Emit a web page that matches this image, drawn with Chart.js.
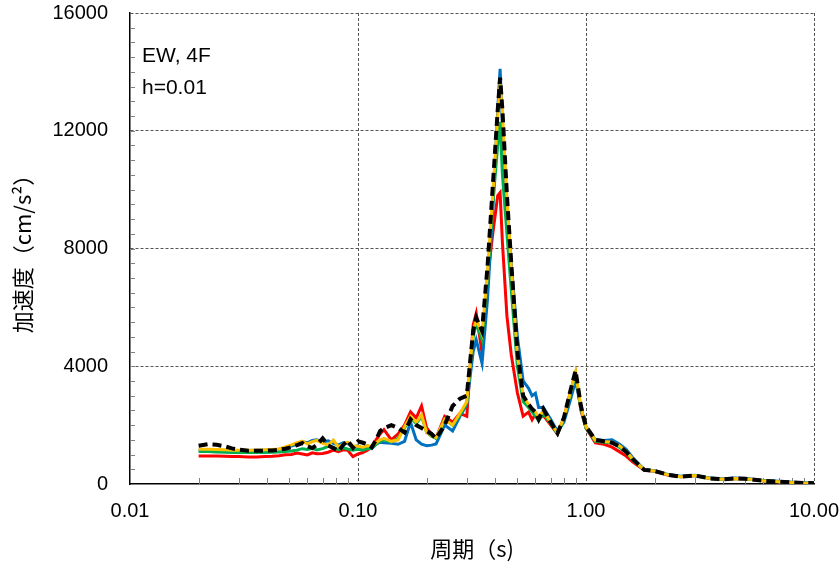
<!DOCTYPE html>
<html>
<head>
<meta charset="utf-8">
<script src="https://cdn.jsdelivr.net/npm/chart.js@4/dist/chart.umd.min.js"></script>
<style>
  body { margin: 0; background: #fff; }
  canvas { display: block; }
</style>
</head>
<body>
<canvas id="spectrum" width="840" height="568"></canvas>
<script>
// periods (s)
const periods = [
  0.02, 0.022, 0.024, 0.026, 0.028, 0.03, 0.033, 0.036, 0.039, 0.042,
  0.045, 0.048, 0.051, 0.054, 0.057, 0.06, 0.063, 0.066, 0.07, 0.074,
  0.078, 0.082, 0.086, 0.09, 0.095, 0.1, 0.105, 0.11, 0.115, 0.12,
  0.125, 0.13, 0.14, 0.15, 0.16, 0.17, 0.18, 0.19, 0.2, 0.21,
  0.22, 0.24, 0.26, 0.28, 0.3, 0.32, 0.33, 0.35, 0.37, 0.39,
  0.41, 0.42, 0.43, 0.45, 0.47, 0.5, 0.53, 0.56, 0.58, 0.6,
  0.62, 0.65, 0.7, 0.75, 0.8, 0.85, 0.9, 0.95, 1.0, 1.1,
  1.2, 1.3, 1.4, 1.5, 1.6, 1.8, 2.0, 2.3, 2.6, 3.0,
  3.5, 4.0, 4.5, 5.0, 6.0, 7.0, 8.0, 9.0, 10.0
];

// acceleration response (cm/s2)
const redValues = [
  950, 950, 950, 940, 930, 930, 920, 920, 930, 940,
  960, 990, 1000, 1050, 1020, 990, 1060, 1030, 1040, 1080,
  1150, 1100, 1160, 1150, 930, 1020, 1070, 1150, 1250, 1500,
  1700, 1850, 1500, 1700, 2000, 2450, 2250, 2650, 1900, 1700,
  1560, 2300, 2100, 2400, 2300, 5400, 5800, 4450, 7000, 8500,
  9800, 9900, 8200, 5700, 4400, 3100, 2300, 2440, 2180, 2380,
  2200, 2330, 2000, 1700, 2250, 3050, 3750, 2500, 1900, 1400,
  1350, 1250, 1100, 950, 750, 470, 430, 300, 250, 290,
  190, 160, 190, 180, 110, 80, 55, 35, 25
];
const blueValues = [
  1150, 1150, 1150, 1140, 1140, 1140, 1140, 1150, 1150, 1160,
  1180, 1230, 1290, 1350, 1430, 1400, 1480, 1500, 1420, 1470,
  1380, 1320, 1400, 1380, 1240, 1300, 1200, 1300, 1200, 1350,
  1420, 1400, 1380, 1350, 1450, 2100, 1500, 1350, 1300, 1320,
  1360, 2000, 1800, 2300, 2700, 4500, 4900, 4100, 6300, 9300,
  12700, 14100, 12200, 9600, 7500, 5000, 3500, 3250, 3000, 3080,
  2600, 2600, 2200, 1780, 2100, 2800, 3500, 2600, 1950, 1500,
  1480, 1500, 1360, 1180, 900, 490, 450, 320, 260, 300,
  200, 170, 200, 190, 120, 90, 60, 40, 30
];
const greenValues = [
  1100, 1100, 1090, 1080, 1070, 1070, 1070, 1070, 1070, 1080,
  1090, 1100, 1120, 1150, 1200, 1170, 1210, 1160, 1200, 1280,
  1240, 1170, 1230, 1190, 1150, 1180, 1150, 1200, 1220, 1350,
  1450, 1500, 1420, 1550, 1900, 2250, 2050, 2300, 1750, 1620,
  1550, 2200, 2000, 2350, 2750, 5000, 5450, 4900, 7000, 9500,
  11500, 12300, 10500, 8500, 6600, 4000, 2800, 2600, 2450, 2300,
  2150, 2400, 2050, 1700, 2200, 3000, 3750, 2550, 1900, 1450,
  1420, 1400, 1250, 1080, 820, 480, 440, 310, 250, 290,
  190, 160, 190, 180, 110, 80, 55, 35, 25
];
const yellowValues = [
  1180, 1180, 1170, 1160, 1150, 1150, 1150, 1150, 1160, 1170,
  1190, 1260, 1330, 1400, 1460, 1360, 1440, 1480, 1380, 1320,
  1490, 1260, 1350, 1420, 1300, 1280, 1250, 1300, 1280, 1400,
  1500, 1550, 1450, 1500, 1950, 2300, 2100, 2350, 1750, 1650,
  1580, 2200, 2000, 2400, 2800, 5200, 5570, 5100, 7200, 9800,
  12500, 13600, 12600, 9700, 7400, 4400, 3000, 2700, 2550, 2450,
  2250, 2500, 2100, 1730, 2250, 3050, 3800, 2600, 1950, 1480,
  1440, 1420, 1300, 1120, 850, 480, 440, 310, 250, 290,
  190, 160, 190, 180, 110, 80, 55, 35, 25
];
const blackValues = [
  1300, 1350, 1330, 1280, 1210, 1170, 1130, 1130, 1130, 1140,
  1160, 1200, 1250, 1320, 1390, 1280, 1220, 1330, 1550, 1310,
  1220, 1120, 1320, 1480, 1230, 1450, 1400, 1350, 1250, 1500,
  1800, 1900, 2000, 1900, 1750, 2200, 2000, 1900, 1800, 1700,
  1550, 2000, 2650, 2900, 3000, 5200, 5650, 5200, 7400, 10100,
  12700, 13800, 12700, 9800, 7500, 4500, 3000, 2700, 2550, 2450,
  2200, 2550, 2100, 1730, 2250, 3100, 3850, 2650, 1950, 1500,
  1450, 1400, 1280, 1100, 850, 480, 440, 310, 250, 290,
  190, 160, 190, 180, 110, 80, 55, 35, 25
];

// axis ticks
const xTickValues = [0.01, 0.1, 1, 10];
const xMinorTicks = [
  0.02, 0.03, 0.04, 0.05, 0.06, 0.07, 0.08, 0.09,
  0.2, 0.3, 0.4, 0.5, 0.6, 0.7, 0.8, 0.9,
  2, 3, 4, 5, 6, 7, 8, 9
];
const yMin = 0, yMax = 16000, yStep = 4000, yMinorStep = 500;
const noteLines = ['EW, 4F', 'h=0.01'];

function toPoints(values) {
  return periods.map((p, i) => ({ x: p, y: values[i] }));
}

function lineSet(label, values, color, width, dash) {
  return {
    label: label,
    data: toPoints(values),
    borderColor: color,
    backgroundColor: color,
    borderWidth: width,
    borderDash: dash || [],
    pointRadius: 0,
    tension: 0,
    fill: false
  };
}

// minor tick marks + note text
const extras = {
  id: 'extras',
  beforeDatasetsDraw(chart) {
    const { ctx, chartArea, scales: { x, y } } = chart;
    ctx.save();
    ctx.strokeStyle = '#808080';
    ctx.lineWidth = 1;
    ctx.beginPath();
    xMinorTicks.forEach(v => {
      const px = Math.round(x.getPixelForValue(v)) + 0.5;
      ctx.moveTo(px, chartArea.bottom);
      ctx.lineTo(px, chartArea.bottom - 6);
    });
    for (let v = yMin + yMinorStep; v < yMax; v += yMinorStep) {
      const py = Math.round(y.getPixelForValue(v)) + 0.5;
      ctx.moveTo(chartArea.left, py);
      ctx.lineTo(chartArea.left + 5, py);
    }
    ctx.stroke();
    ctx.restore();
  },
  afterDraw(chart) {
    const { ctx, chartArea } = chart;
    ctx.save();
    ctx.fillStyle = '#000';
    ctx.font = '21px "Liberation Sans", Arial, sans-serif';
    ctx.textBaseline = 'alphabetic';
    ctx.fillText(noteLines[0], chartArea.left + 12, 62);
    ctx.fillText(noteLines[1], chartArea.left + 12, 94);
    ctx.restore();
  }
};

const gridColor = '#555555';

new Chart(document.getElementById('spectrum'), {
  type: 'line',
  data: {
    datasets: [
      lineSet('black', blackValues, '#000000', 4, [9, 5]),
      lineSet('yellow', yellowValues, '#FFC000', 3),
      lineSet('green', greenValues, '#00B050', 3),
      lineSet('blue', blueValues, '#0070C0', 3),
      lineSet('red', redValues, '#FF0000', 3)
    ]
  },
  options: {
    responsive: false,
    animation: false,
    layout: { padding: { left: 0, top: 13, right: 26, bottom: 0 } },
    plugins: {
      legend: { display: false },
      tooltip: { enabled: false }
    },
    scales: {
      x: {
        type: 'logarithmic',
        min: 0.01,
        max: 10,
        afterBuildTicks: scale => {
          scale.ticks = xTickValues.map(v => ({ value: v, major: true }));
        },
        afterFit: scale => {
          scale.height = 84;
          scale.paddingLeft = 0;
          scale.paddingRight = 0;
        },
        ticks: {
          autoSkip: false,
          maxRotation: 0,
          padding: 15,
          color: '#000',
          font: { family: '"Liberation Sans", Arial, sans-serif', size: 20 },
          callback: v => Number(v).toFixed(2)
        },
        grid: {
          drawTicks: false,
          lineWidth: 1,
          color: c => (c.tick && c.tick.value === 0.01) ? 'rgba(0,0,0,0)' : gridColor
        },
        border: { display: true, color: '#000', width: 1.5, dash: [3, 2] },
        title: {
          display: true,
          text: '周期（s)',
          color: '#000',
          padding: { top: 0, bottom: 6 },
          font: { family: '"Noto Sans CJK JP", sans-serif', size: 22 }
        }
      },
      y: {
        min: yMin,
        max: yMax,
        afterFit: scale => {
          scale.width = 130;
          scale.paddingTop = 0;
          scale.paddingBottom = 0;
        },
        ticks: {
          stepSize: yStep,
          padding: 22,
          color: '#000',
          font: { family: '"Liberation Sans", Arial, sans-serif', size: 20 },
          callback: v => String(v)
        },
        grid: {
          drawTicks: false,
          lineWidth: 1,
          color: c => (c.tick && c.tick.value === 0) ? 'rgba(0,0,0,0)' : gridColor
        },
        border: { display: true, color: '#000', width: 1.5, dash: [3, 2] },
        title: {
          display: true,
          text: '加速度（cm/s²）',
          color: '#000',
          padding: { top: 9, bottom: 0 },
          font: { family: '"Noto Sans CJK JP", sans-serif', size: 22 }
        }
      }
    }
  },
  plugins: [extras]
});
</script>
</body>
</html>
